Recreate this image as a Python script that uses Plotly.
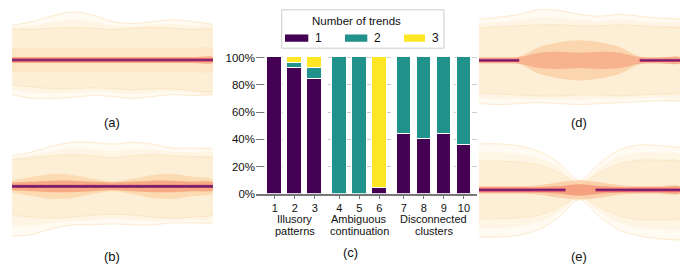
import plotly.graph_objects as go

# ---------------- data ----------------
bar_labels = ['1', '2', '3', '4', '5', '6', '7', '8', '9', '10']
bar_group = [0, 0, 0, 1, 1, 1, 2, 2, 2, 2]
group_names = ['Illusory\npatterns', 'Ambiguous\ncontinuation', 'Disconnected\nclusters']
series_names = ['1', '2', '3']
pct_one = [100, 92, 84, 0, 0, 4, 44, 40, 44, 36]
pct_two = [0, 4, 8, 100, 100, 0, 56, 60, 56, 64]
pct_three = [0, 4, 8, 0, 0, 96, 0, 0, 0, 0]
series_colors = ['#440154', '#21918c', '#fde725']
y_ticks = [0, 20, 40, 60, 80, 100]
y_ticktext = ['0%', '20%', '40%', '60%', '80%', '100%']
legend_title = 'Number of trends'
panel_letters = ['(a)', '(b)', '(c)', '(d)', '(e)']

# line-bundle envelopes for the side panels (offsets from the centre line, px)
env_x = [0, 1, 2, 3, 4, 5, 6, 7, 8, 9, 10]
a_outer_up = [36, 40, 46, 50, 47, 40, 38, 40, 42, 40, 37]
a_outer_dn = [-36, -40, -40, -39, -37, -38, -40, -38, -36, -37, -36]
a_mid_up = [32, 32, 33, 34, 33, 32, 33, 34, 33, 32, 32]
a_mid_dn = [-26, -28, -30, -30, -29, -30, -31, -30, -30, -32, -33]
a_in_up = [12, 12, 13, 12, 12, 12, 12, 13, 12, 12, 12]
a_in_dn = [-12, -12, -12, -13, -12, -12, -12, -12, -13, -12, -12]
a_core_up = [3, 3, 3, 3, 3, 3, 3, 3, 3, 3, 3]
a_core_dn = [-3, -3, -3, -3, -3, -3, -3, -3, -3, -3, -3]

b_outer_up = [32, 36, 42, 46, 46, 44, 46, 44, 40, 40, 39]
b_outer_dn = [-52, -50, -44, -40, -40, -39, -40, -40, -38, -38, -38]
b_mid_up = [28, 30, 32, 33, 32, 30, 32, 33, 32, 31, 30]
b_mid_dn = [-30, -32, -33, -32, -30, -29, -30, -32, -33, -32, -30]
b_in_up = [6, 10, 13, 12, 8, 5, 8, 12, 13, 10, 7]
b_in_dn = [-6, -10, -13, -12, -8, -5, -8, -12, -13, -10, -7]
b_core_up = [4, 5, 6, 6, 5, 4, 5, 6, 6, 5, 4]
b_core_dn = [-4, -5, -6, -6, -5, -4, -5, -6, -6, -5, -4]

d_outer_up = [43, 45, 48, 53, 52, 48, 46, 48, 46, 44, 43]
d_outer_dn = [-45, -46, -45, -44, -45, -46, -45, -44, -43, -42, -42]
d_mid_up = [34, 35, 36, 37, 37, 36, 36, 37, 36, 35, 34]
d_mid_dn = [-34, -35, -36, -37, -37, -36, -36, -37, -36, -35, -34]
d_in_up = [3, 3, 4, 14, 19, 21, 19, 14, 4, 3, 3]
d_in_dn = [-3, -3, -4, -14, -19, -21, -19, -14, -4, -3, -3]
d_core_up = [3, 3, 3.5, 8, 9, 8, 9, 8, 3.5, 3, 3]
d_core_dn = [-3, -3, -3.5, -8, -9, -8, -9, -8, -3.5, -3, -3]

e_outer_up = [48, 48, 46, 40, 28, 10, 28, 42, 47, 46, 44]
e_outer_dn = [-49, -49, -47, -41, -28, -10, -28, -42, -48, -51, -52]
e_mid_up = [30, 30, 29, 26, 18, 7, 18, 27, 31, 31, 30]
e_mid_dn = [-30, -30, -29, -26, -18, -7, -18, -27, -31, -31, -30]
e_in_up = [4, 4, 4, 5, 8, 10, 8, 5, 4, 4, 4]
e_in_dn = [-4, -4, -4, -5, -8, -10, -8, -5, -4, -4, -4]
e_core_up = [3, 3, 3, 3, 4, 6, 4, 3, 3, 3, 3]
e_core_dn = [-3, -3, -3, -3, -4, -6, -4, -3, -3, -3, -3]

# sharp centre line (None = lines diverge there, no sharp centre line)
a_line_x = [0, 10]
a_line_y = [0, 0]
b_line_x = [0, 10]
b_line_y = [0, 0]
d_line_x = [0, 2.0, None, 8.0, 10]
d_line_y = [0, 0, None, 0, 0]
e_line_x = [0, 4.3, None, 5.8, 10]
e_line_y = [0, 0, None, 0, 0]

# ---------------- figure ----------------
W, H = 689, 274
fig = go.Figure()
FONT = 'Liberation Sans, Arial, Helvetica, sans-serif'
TXT = '#111111'

GAP = 0.23
xpos = [i + 1 + GAP * g for i, g in enumerate(bar_group)]


def nz(vals):
    return [v if v else None for v in vals]


for name, vals, col in zip(series_names, [pct_one, pct_two, pct_three], series_colors):
    fig.add_trace(go.Bar(
        x=xpos, y=nz(vals), name=name, width=0.73,
        marker=dict(color=col, line=dict(color='white', width=1)),
        showlegend=False, xaxis='x', yaxis='y'))


def px_x(p):
    return p / W


def px_y(p):
    return 1 - p / H


panels = [
    ('x2', 'y2', (12, 213), 57.3,
     (a_outer_up, a_outer_dn, a_mid_up, a_mid_dn, a_in_up, a_in_dn, a_core_up, a_core_dn),
     a_line_x, a_line_y, 1.6, ('#fde6c6', '#f7b08a')),
    ('x3', 'y3', (12, 213), 189.0,
     (b_outer_up, b_outer_dn, b_mid_up, b_mid_dn, b_in_up, b_in_dn, b_core_up, b_core_dn),
     b_line_x, b_line_y, 2.2, ('#fcdab2', '#f6ab84')),
    ('x4', 'y4', (479, 680), 57.7,
     (d_outer_up, d_outer_dn, d_mid_up, d_mid_dn, d_in_up, d_in_dn, d_core_up, d_core_dn),
     d_line_x, d_line_y, 1.8, ('#fbd5ae', '#f7b290')),
    ('x5', 'y5', (479, 680), 192.7,
     (e_outer_up, e_outer_dn, e_mid_up, e_mid_dn, e_in_up, e_in_dn, e_core_up, e_core_dn),
     e_line_x, e_line_y, 1.8, ('#fbd0aa', '#f5a07f')),
]

layout_axes = {}
for xa, ya, (x0, x1), cy, env, lx, ly, cw, (inner_col, core_col) in panels:
    o_up, o_dn, m_up, m_dn, i_up, i_dn, c_up, c_dn = env
    h_up = [(a + b) / 2 for a, b in zip(o_up, m_up)]
    h_dn = [(a + b) / 2 for a, b in zip(o_dn, m_dn)]
    layers = [(o_up, o_dn, '#fffaf2'), (h_up, h_dn, '#fef5e4'),
              (m_up, m_dn, '#fdeed6'), (i_up, i_dn, inner_col), (c_up, c_dn, core_col)]
    for up, dn, col in layers:
        fig.add_trace(go.Scatter(
            x=env_x + env_x[::-1], y=up + dn[::-1], fill='toself', fillcolor=col,
            mode='lines', line=dict(width=0, shape='spline', smoothing=0.9),
            hoverinfo='skip', showlegend=False, xaxis=xa, yaxis=ya))
    for edge in (o_up, o_dn, m_up, m_dn):
        fig.add_trace(go.Scatter(x=env_x, y=edge, mode='lines',
                                 line=dict(color='#fbe3bb', width=0.7, shape='spline', smoothing=0.9),
                                 hoverinfo='skip', showlegend=False, xaxis=xa, yaxis=ya))
    fig.add_trace(go.Scatter(x=lx, y=ly, mode='lines', line=dict(color='#de4f6c', width=3.4),
                             hoverinfo='skip', showlegend=False, xaxis=xa, yaxis=ya, connectgaps=False))
    fig.add_trace(go.Scatter(x=lx, y=ly, mode='lines', line=dict(color='#6a1c6e', width=cw),
                             hoverinfo='skip', showlegend=False, xaxis=xa, yaxis=ya, connectgaps=False))
    n = xa[1:]
    layout_axes['xaxis' + n] = dict(domain=[px_x(x0), px_x(x1)], range=[0, 10], visible=False,
                                    anchor=ya, fixedrange=True)
    layout_axes['yaxis' + n] = dict(domain=[px_y(cy + 57), px_y(cy - 57)], range=[-57, 57], visible=False,
                                    anchor=xa, fixedrange=True)

fig.update_layout(
    width=W, height=H, margin=dict(l=0, r=0, t=0, b=0),
    paper_bgcolor='white', plot_bgcolor='white',
    barmode='stack', bargap=0,
    font=dict(family=FONT, size=11.5, color=TXT),
    xaxis=dict(domain=[px_x(256), px_x(477)], range=[0.065, 11.115],
               tickvals=xpos, ticktext=bar_labels, ticks='outside', ticklen=3,
               tickcolor='#777777', showline=True, linecolor='#777777', linewidth=1.5,
               showgrid=False, zeroline=False, tickfont=dict(size=11, color=TXT)),
    yaxis=dict(domain=[px_y(196.7), px_y(53.3)], range=[0, 101],
               tickvals=y_ticks, ticktext=y_ticktext, ticks='inside', ticklen=8,
               tickcolor='#777777', showline=False, showgrid=True, gridcolor='#cccccc',
               griddash='dash', gridwidth=1, zeroline=False, tickfont=dict(size=11.5, color=TXT)),
    **layout_axes,
)

# group labels under the bar chart
for g, gname in enumerate(group_names):
    members = [xpos[i] for i, gg in enumerate(bar_group) if gg == g]
    cxg = (members[0] + members[-1]) / 2
    for k, line in enumerate(gname.split('\n')):
        fig.add_annotation(x=cxg, xref='x', y=px_y(222.5 + 12.5 * k), yref='paper', text=line,
                           showarrow=False, font=dict(size=11, color=TXT),
                           xanchor='center', yanchor='middle', borderpad=0)

# legend (drawn manually)
fig.add_shape(type='rect', xref='paper', yref='paper', x0=px_x(281.7), x1=px_x(444),
              y0=px_y(45), y1=px_y(5), line=dict(color='#cccccc', width=1), fillcolor='white')
fig.add_annotation(x=px_x(356), y=px_y(16.7), xref='paper', yref='paper', text=legend_title,
                   showarrow=False, font=dict(size=11.5, color=TXT), xanchor='center', yanchor='middle')
sw_x = [(285, 308.3), (345, 367.3), (404, 425)]
for (sx0, sx1), col, name in zip(sw_x, series_colors, series_names):
    fig.add_shape(type='rect', xref='paper', yref='paper', x0=px_x(sx0), x1=px_x(sx1),
                  y0=px_y(38.3), y1=px_y(30.7), line=dict(width=0), fillcolor=col)
    fig.add_annotation(x=px_x(sx1 + 5), y=px_y(34.5), xref='paper', yref='paper', text=name,
                       xanchor='left', yanchor='middle', showarrow=False, font=dict(size=12, color=TXT))

# panel letters
letter_pos = [(112, 122), (112, 262), (350, 258), (579, 122), (579, 262)]
for txt, (lx_, ly_) in zip(panel_letters, letter_pos):
    fig.add_annotation(x=px_x(lx_), y=px_y(ly_), xref='paper', yref='paper', text=txt,
                       showarrow=False, font=dict(size=13, color=TXT),
                       xanchor='center', yanchor='middle')

fig.write_html('out.html', config={'displayModeBar': False},
               post_script="document.body.style.margin='0';document.body.style.overflow='hidden';"
                           "document.documentElement.style.overflow='hidden';")
